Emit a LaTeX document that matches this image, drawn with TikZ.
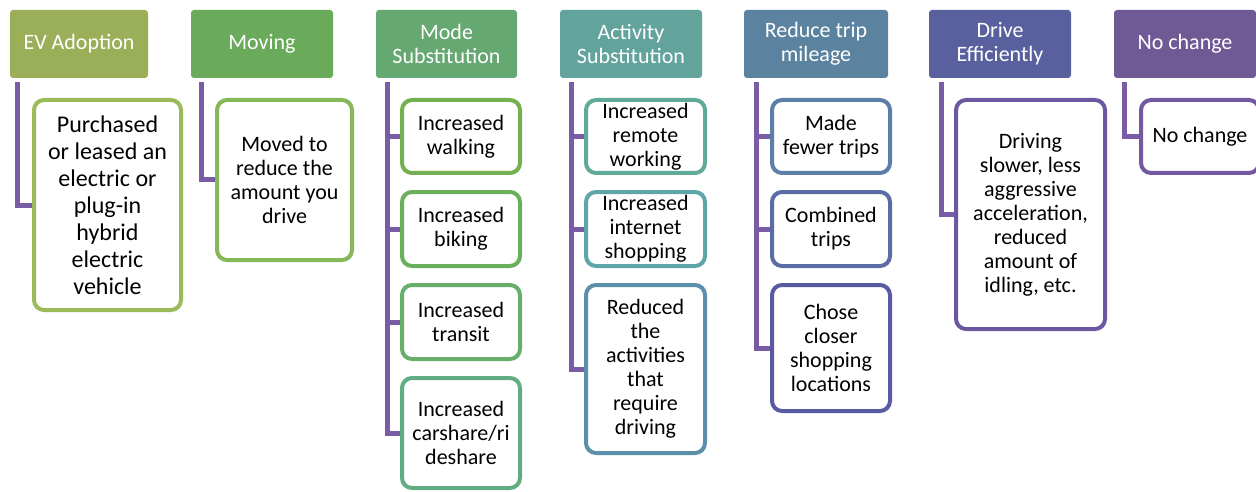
\documentclass[tikz,border=0pt]{standalone}
\usepackage{fontspec}
\setmainfont{Carlito}
\usetikzlibrary{calc,backgrounds}
\definecolor{connc}{HTML}{7A5CA6}
\definecolor{hEV}{HTML}{9BAF58}
\definecolor{hMov}{HTML}{6AAB5B}
\definecolor{hMode}{HTML}{65A872}
\definecolor{hAct}{HTML}{62A39B}
\definecolor{hRed}{HTML}{5B839F}
\definecolor{hDrv}{HTML}{59609E}
\definecolor{hNo}{HTML}{705A96}
\definecolor{cEV}{HTML}{9BBB59}
\definecolor{cMov}{HTML}{86B85A}
\definecolor{cWalk}{HTML}{72B050}
\definecolor{cBike}{HTML}{6AAF5C}
\definecolor{cTran}{HTML}{66AE69}
\definecolor{cCar}{HTML}{62AC82}
\definecolor{cRem}{HTML}{5FAA98}
\definecolor{cInt}{HTML}{5EA5AA}
\definecolor{cRedu}{HTML}{5B8FAA}
\definecolor{cMade}{HTML}{5B7FA8}
\definecolor{cComb}{HTML}{5B6CA5}
\definecolor{cChose}{HTML}{5A5AA2}
\definecolor{cDrv}{HTML}{6B58A0}
\definecolor{cNo}{HTML}{7458A0}
\begin{document}
\begin{tikzpicture}[x=1pt,y=-1pt,
  hdr/.style={rectangle, rounded corners=3pt, fill=#1, text=white, align=center,
    inner sep=0pt, font=\fontsize{22}{24}\selectfont},
  cbox/.style={rectangle, rounded corners=10pt, draw=#1, line width=4pt, fill=white,
    text=black, align=center, inner sep=0pt, font=\fontsize{22}{24}\selectfont},
  conn/.style={draw=connc, line width=5pt, line join=miter, line cap=butt}]
\useasboundingbox (0,0) rectangle (1256,492);
\clip (0,0) rectangle (1256,492);

% headers
\node[hdr=hEV,  minimum width=138pt, minimum height=68pt] (ev)   at (79,44)   {EV Adoption};
\node[hdr=hMov, minimum width=142pt, minimum height=68pt] (mov)  at (262,44)  {Moving};
\node[hdr=hMode,minimum width=141pt, minimum height=68pt] (mode) at (446.5,44){Mode\\Substitution};
\node[hdr=hAct, minimum width=142pt, minimum height=68pt] (act)  at (631,44)  {Activity\\Substitution};
\node[hdr=hRed, minimum width=144pt, minimum height=68pt] (red)  at (816,44)  {Reduce trip\\mileage};
\node[hdr=hDrv, minimum width=142pt, minimum height=68pt] (drv)  at (1000,44) {Drive\\Efficiently};
\node[hdr=hNo,  minimum width=142pt, minimum height=68pt] (no)   at (1185,44) {No change};

% children
\node[cbox=cEV, minimum width=147pt, minimum height=210pt,
  font=\fontsize{24}{27}\selectfont] (evc) at (107.5,205)
  {Purchased\\or leased an\\electric or\\plug-in\\hybrid\\electric\\vehicle};
\node[cbox=cMov, minimum width=135pt, minimum height=160pt] (movc) at (284.5,180)
  {Moved to\\reduce the\\amount you\\drive};

\node[cbox=cWalk, minimum width=118pt, minimum height=73pt]  (m1) at (461,136.5) {Increased\\walking};
\node[cbox=cBike, minimum width=118pt, minimum height=74pt]  (m2) at (461,229)   {Increased\\biking};
\node[cbox=cTran, minimum width=118pt, minimum height=74pt]  (m3) at (461,322)   {Increased\\transit};
\node[cbox=cCar,  minimum width=118pt, minimum height=110pt] (m4) at (461,433)   {Increased\\carshare/ri\\deshare};

\node[cbox=cRem,  minimum width=119pt, minimum height=73pt]  (a1) at (645.5,136.5) {Increased\\remote\\working};
\node[cbox=cInt,  minimum width=119pt, minimum height=74pt]  (a2) at (645.5,229)   {Increased\\internet\\shopping};
\node[cbox=cRedu, minimum width=119pt, minimum height=168pt] (a3) at (645.5,369)   {Reduced\\the\\activities\\that\\require\\driving};

\node[cbox=cMade, minimum width=118pt, minimum height=73pt]  (r1) at (831,136.5) {Made\\fewer trips};
\node[cbox=cComb, minimum width=118pt, minimum height=74pt]  (r2) at (831,229)   {Combined\\trips};
\node[cbox=cChose,minimum width=118pt, minimum height=126pt] (r3) at (831,348)   {Chose\\closer\\shopping\\locations};

\node[cbox=cDrv, minimum width=149pt, minimum height=229pt] (drvc) at (1030.5,214.5)
  {Driving\\slower, less\\aggressive\\acceleration,\\reduced\\amount of\\idling, etc.};

\node[cbox=cNo, minimum width=118pt, minimum height=73pt] (noc) at (1200,136.5) {No change};

% connector tops
\coordinate (evt)   at ($(ev.south west)+(8,4)$);
\coordinate (movt)  at ($(mov.south west)+(11,4)$);
\coordinate (modet) at ($(mode.south west)+(12,4)$);
\coordinate (actt)  at ($(act.south west)+(12,4)$);
\coordinate (redt)  at ($(red.south west)+(13,4)$);
\coordinate (drvt)  at ($(drv.south west)+(13,4)$);
\coordinate (not)   at ($(no.south west)+(11,4)$);

\begin{scope}[on background layer]
\draw[conn] (evt) |- (evc.west);
\draw[conn] (movt) |- (movc.west);
\draw[conn] (modet) |- (m4.west);
\draw[conn] (modet) |- (m1.west);
\draw[conn] (modet) |- (m2.west);
\draw[conn] (modet) |- (m3.west);
\draw[conn] (actt) |- (a3.west);
\draw[conn] (actt) |- (a1.west);
\draw[conn] (actt) |- (a2.west);
\draw[conn] (redt) |- (r3.west);
\draw[conn] (redt) |- (r1.west);
\draw[conn] (redt) |- (r2.west);
\draw[conn] (drvt) |- (drvc.west);
\draw[conn] (not) |- (noc.west);
\end{scope}
\end{tikzpicture}
\end{document}
